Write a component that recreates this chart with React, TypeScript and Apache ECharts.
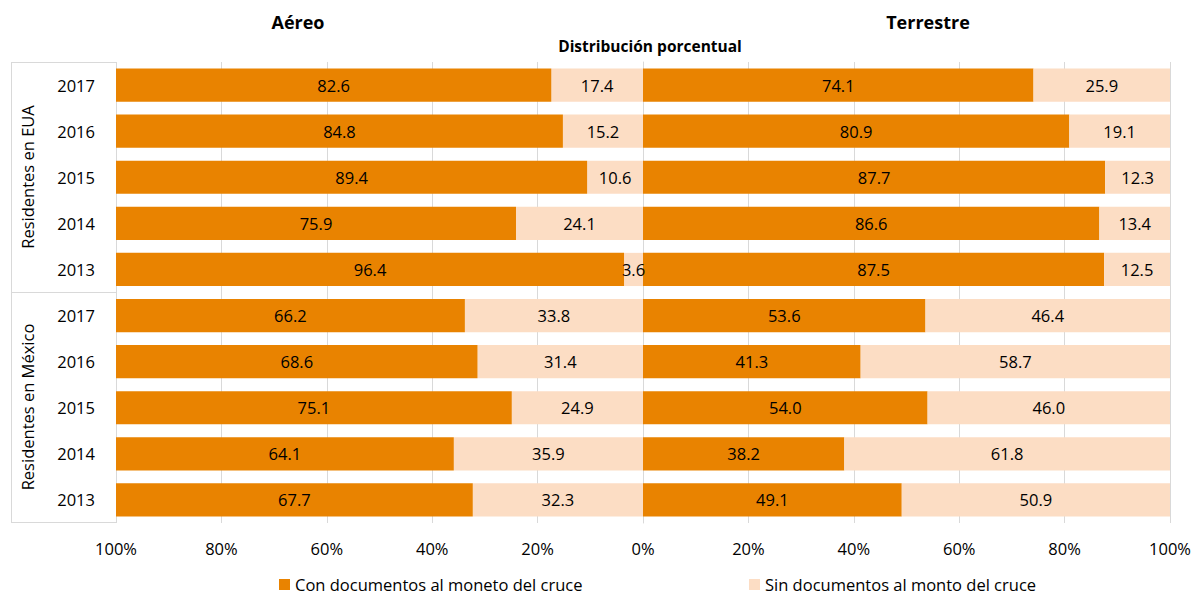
import React, { useEffect, useRef } from "react";
import * as echarts from "echarts";

const categories = ["EUA|2017", "EUA|2016", "EUA|2015", "EUA|2014", "EUA|2013", "MEX|2017", "MEX|2016", "MEX|2015", "MEX|2014", "MEX|2013"];
const groupLabels = ["Residentes en EUA", "Residentes en México"];
const seriesNames = ["Con documentos al moneto del cruce", "Sin documentos al monto del cruce"];
const panelTitles = ["Aéreo", "Terrestre"];
const subtitle = "Distribución porcentual";

const aereoCon = [82.6, 84.8, 89.4, 75.9, 96.4, 66.2, 68.6, 75.1, 64.1, 67.7];
const aereoSin = [17.4, 15.2, 10.6, 24.1, 3.6, 33.8, 31.4, 24.9, 35.9, 32.3];
const terrestreCon = [74.1, 80.9, 87.7, 86.6, 87.5, 53.6, 41.3, 54.0, 38.2, 49.1];
const terrestreSin = [25.9, 19.1, 12.3, 13.4, 12.5, 46.4, 58.7, 46.0, 61.8, 50.9];

const FONT = "Open Sans";
const FS = 16.5;
const ORANGE = "#E98300";
const LIGHT = "#FCDDC4";

export default function App() {
  const ref = useRef<HTMLDivElement>(null);
  useEffect(() => {
    const chart = echarts.init(ref.current!, null, { renderer: "svg" });
    const top = 62;
    const bottom = 74;
    const label = {
      show: true,
      position: "inside",
      color: "#000",
      fontFamily: FONT,
      fontSize: FS,
      formatter: (p: any) => Number(p.value).toFixed(1),
    };
    const barCommon = {
      type: "bar",
      barCategoryGap: "28%",
      label,
    };
    const lineStyle = { stroke: "#d9d9d9", lineWidth: 1 };
    const legendText = { fontFamily: FONT, fontSize: FS, color: "#000", lineHeight: 17 };
    chart.setOption({
      animation: false,
      textStyle: { fontFamily: FONT },
      grid: [
        { left: 116, right: 556, top, bottom },
        { left: 643, right: 29, top, bottom },
      ],
      xAxis: [
        {
          gridIndex: 0, type: "value", min: 0, max: 100, interval: 20, inverse: true,
          axisLine: { show: false }, axisTick: { show: false },
          splitLine: { lineStyle: { color: "#d9d9d9" } },
          axisLabel: { fontFamily: FONT, fontSize: FS, color: "#000", margin: 17, formatter: (v: number) => (v === 0 ? "" : v + "%") },
        },
        {
          gridIndex: 1, type: "value", min: 0, max: 100, interval: 20,
          axisLine: { show: false }, axisTick: { show: false },
          splitLine: { lineStyle: { color: "#d9d9d9" } },
          axisLabel: { fontFamily: FONT, fontSize: FS, color: "#000", margin: 17, formatter: (v: number) => v + "%" },
        },
      ],
      yAxis: [
        {
          gridIndex: 0, type: "category", data: categories, inverse: true,
          axisLine: { show: true, lineStyle: { color: "#d9d9d9" } }, axisTick: { show: false },
          axisLabel: { fontFamily: FONT, fontSize: FS, color: "#000", margin: 21, formatter: (v: string) => v.split("|")[1] },
        },
        {
          gridIndex: 1, type: "category", data: categories, inverse: true,
          axisLine: { show: false }, axisTick: { show: false }, axisLabel: { show: false },
        },
      ],
      legend: [
        {
          data: [seriesNames[0]], left: 279, top: 576, padding: 0, icon: "rect", itemWidth: 11, itemHeight: 11, itemGap: 5,
          textStyle: legendText,
        },
        {
          data: [seriesNames[1]], left: 749, top: 576, padding: 0, icon: "rect", itemWidth: 11, itemHeight: 11, itemGap: 5,
          textStyle: legendText,
        },
      ],
      series: [
        { ...barCommon, name: seriesNames[1], stack: "a", xAxisIndex: 0, yAxisIndex: 0, data: aereoSin, itemStyle: { color: LIGHT } },
        { ...barCommon, name: seriesNames[0], stack: "a", xAxisIndex: 0, yAxisIndex: 0, data: aereoCon, itemStyle: { color: ORANGE } },
        { ...barCommon, name: seriesNames[0], stack: "t", xAxisIndex: 1, yAxisIndex: 1, data: terrestreCon, itemStyle: { color: ORANGE } },
        { ...barCommon, name: seriesNames[1], stack: "t", xAxisIndex: 1, yAxisIndex: 1, data: terrestreSin, itemStyle: { color: LIGHT } },
      ],
      graphic: [
        { type: "text", x: 298, y: 22, style: { text: panelTitles[0], font: `bold 18px "${FONT}"`, fill: "#000", textAlign: "center", textVerticalAlign: "middle" } },
        { type: "text", x: 928, y: 22, style: { text: panelTitles[1], font: `bold 18px "${FONT}"`, fill: "#000", textAlign: "center", textVerticalAlign: "middle" } },
        { type: "text", x: 650, y: 46, style: { text: subtitle, font: `bold 15.5px "${FONT}"`, fill: "#000", textAlign: "center", textVerticalAlign: "middle" } },
        { type: "line", shape: { x1: 11, y1: 62.5, x2: 116, y2: 62.5 }, style: lineStyle },
        { type: "line", shape: { x1: 11, y1: 292.5, x2: 116, y2: 292.5 }, style: lineStyle },
        { type: "line", shape: { x1: 11, y1: 522.5, x2: 116, y2: 522.5 }, style: lineStyle },
        { type: "line", shape: { x1: 11.5, y1: 62, x2: 11.5, y2: 523 }, style: lineStyle },
        { type: "text", x: 27, y: 177, rotation: Math.PI / 2, style: { text: groupLabels[0], font: `${FS}px "${FONT}"`, fill: "#000", textAlign: "center", textVerticalAlign: "middle" } },
        { type: "text", x: 27, y: 407, rotation: Math.PI / 2, style: { text: groupLabels[1], font: `${FS}px "${FONT}"`, fill: "#000", textAlign: "center", textVerticalAlign: "middle" } },
      ],
    });
    return () => chart.dispose();
  }, []);
  return <div ref={ref} style={{ width: 1199, height: 597, position: "absolute", left: 0, top: 0 }} />;
}
